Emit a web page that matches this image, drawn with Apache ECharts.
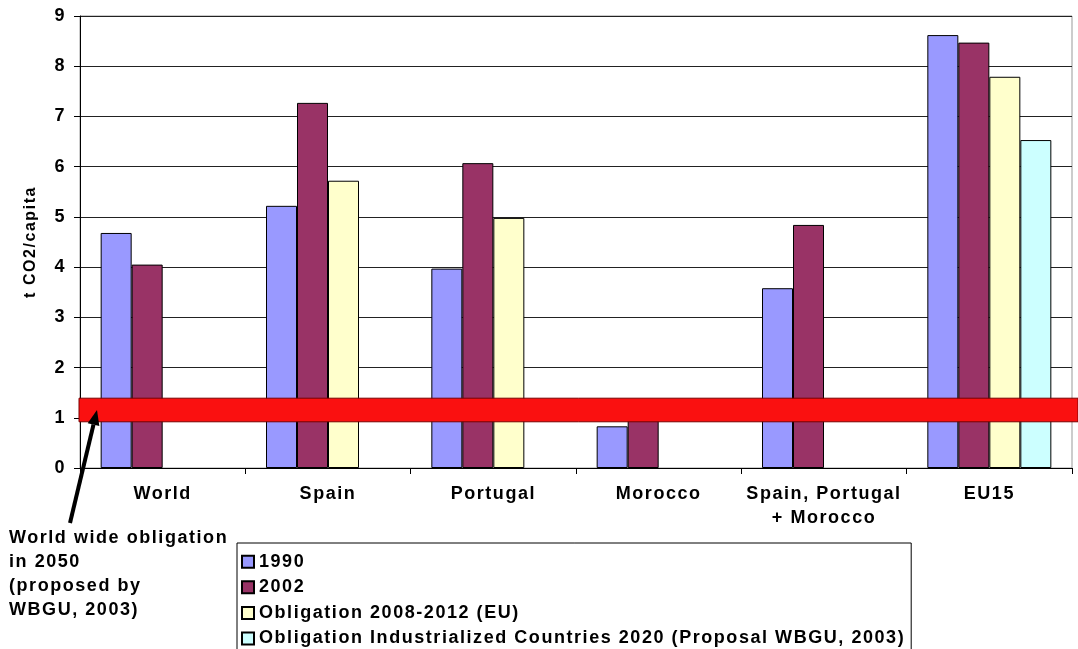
<!DOCTYPE html>
<html>
<head>
<meta charset="utf-8">
<script src="https://cdn.jsdelivr.net/npm/echarts@6/dist/echarts.min.js"></script>
<style>
html,body{margin:0;padding:0;background:#fff;}
#chart{width:1078px;height:649px;}
</style>
</head>
<body>
<div id="chart"></div>
<script>
const categories = ['World', 'Spain', 'Portugal', 'Morocco', 'Spain, Portugal\n+ Morocco', 'EU15'];
const v1990 = [4.68, 5.22, 3.97, 0.83, 3.58, 8.62];
const v2002 = [4.05, 7.27, 6.07, 1.0, 4.84, 8.47];
const vObl2012 = [null, 5.72, 4.98, null, null, 7.79];
const vObl2020 = [null, null, null, null, null, 6.53];
const seriesNames = ['1990', '2002', 'Obligation 2008-2012 (EU)', 'Obligation Industrialized Countries 2020 (Proposal WBGU, 2003)'];
const seriesColors = ['#9999ff', '#993366', '#ffffcc', '#ccffff'];
const bandRange = [0.92, 1.39];
const yTicks = [0, 1, 2, 3, 4, 5, 6, 7, 8, 9];
const annotationText = 'World wide obligation\nin 2050\n(proposed by\nWBGU, 2003)';

// letter-spaced bold text as in the reference
const LS = '1.55px';
const _ft = CanvasRenderingContext2D.prototype.fillText;
const _mt = CanvasRenderingContext2D.prototype.measureText;
CanvasRenderingContext2D.prototype.fillText = function () { this.letterSpacing = LS; return _ft.apply(this, arguments); };
CanvasRenderingContext2D.prototype.measureText = function () { this.letterSpacing = LS; return _mt.apply(this, arguments); };

const FONT = '"Liberation Sans", Arial, sans-serif';
const FS = 18;
const chart = echarts.init(document.getElementById('chart'), null, {renderer: 'canvas'});

const allData = [v1990, v2002, vObl2012, vObl2020];
const series = allData.map((d, i) => ({
  name: seriesNames[i],
  type: 'bar',
  data: d,
  barGap: '0%',
  barCategoryGap: '25%',
  itemStyle: {color: seriesColors[i], borderColor: '#000', borderWidth: 1},
  emphasis: {disabled: true}
}));
series[3].markArea = {
  silent: true,
  z: 10,
  itemStyle: {color: '#fa1010', borderColor: '#7a0000', borderWidth: 1},
  data: [[{yAxis: bandRange[0], xAxis: 'min', x: 79}, {yAxis: bandRange[1], xAxis: 'max', x: 1078}]]
};

// arrow geometry (annotation)
const tail = [70, 523], head = [97, 410];
const dx = head[0] - tail[0], dy = head[1] - tail[1];
const len = Math.sqrt(dx * dx + dy * dy);
const ux = dx / len, uy = dy / len;
const hl = 15, hw = 6;
const base = [head[0] - ux * hl, head[1] - uy * hl];
const px = -uy, py = ux;

chart.setOption({
  animation: false,
  textStyle: {fontFamily: FONT},
  grid: {left: 80, right: 6, top: 16, bottom: 181, show: true, borderColor: '#999', borderWidth: 1, backgroundColor: 'transparent'},
  legend: {
    orient: 'vertical',
    left: 237, top: 543, height: 300,
    padding: [9, 6, 20, 4],
    itemWidth: 12, itemHeight: 12, itemGap: 6,
    borderColor: '#000', borderWidth: 1,
    backgroundColor: '#fff',
    selectedMode: false,
    textStyle: {fontFamily: FONT, fontWeight: 'bold', fontSize: FS, color: '#000'},
    data: seriesNames.map(n => ({name: n, icon: 'rect'}))
  },
  xAxis: {
    type: 'category',
    data: categories,
    axisLine: {lineStyle: {color: '#000', width: 1}},
    axisTick: {show: true, length: 6, lineStyle: {color: '#000'}, interval: 0},
    axisLabel: {fontFamily: FONT, fontWeight: 'bold', fontSize: FS, color: '#000', margin: 14, lineHeight: 24, interval: 0}
  },
  yAxis: {
    type: 'value',
    min: yTicks[0], max: yTicks[yTicks.length - 1], interval: 1,
    name: 't CO2/capita',
    nameLocation: 'middle',
    nameRotate: 90,
    nameGap: 41,
    nameTextStyle: {fontFamily: FONT, fontWeight: 'bold', fontSize: 16, color: '#000'},
    axisLine: {show: true, lineStyle: {color: '#000', width: 1}},
    axisTick: {show: true, length: 6, lineStyle: {color: '#000'}},
    axisLabel: {fontFamily: FONT, fontWeight: 'bold', fontSize: FS, color: '#000', margin: 14},
    splitLine: {show: true, lineStyle: {color: '#222', width: 1}}
  },
  series: series,
  graphic: [
    {type: 'line', z: 100, shape: {x1: tail[0], y1: tail[1], x2: base[0], y2: base[1]}, style: {stroke: '#000', lineWidth: 4}},
    {type: 'polygon', z: 100, shape: {points: [head, [base[0] + px * hw, base[1] + py * hw], [base[0] - px * hw, base[1] - py * hw]]}, style: {fill: '#000'}},
    {type: 'text', z: 100, left: 9, top: 526, style: {text: annotationText, font: 'bold 18px ' + FONT, fill: '#000', lineHeight: 24}}
  ]
});
</script>
</body>
</html>
